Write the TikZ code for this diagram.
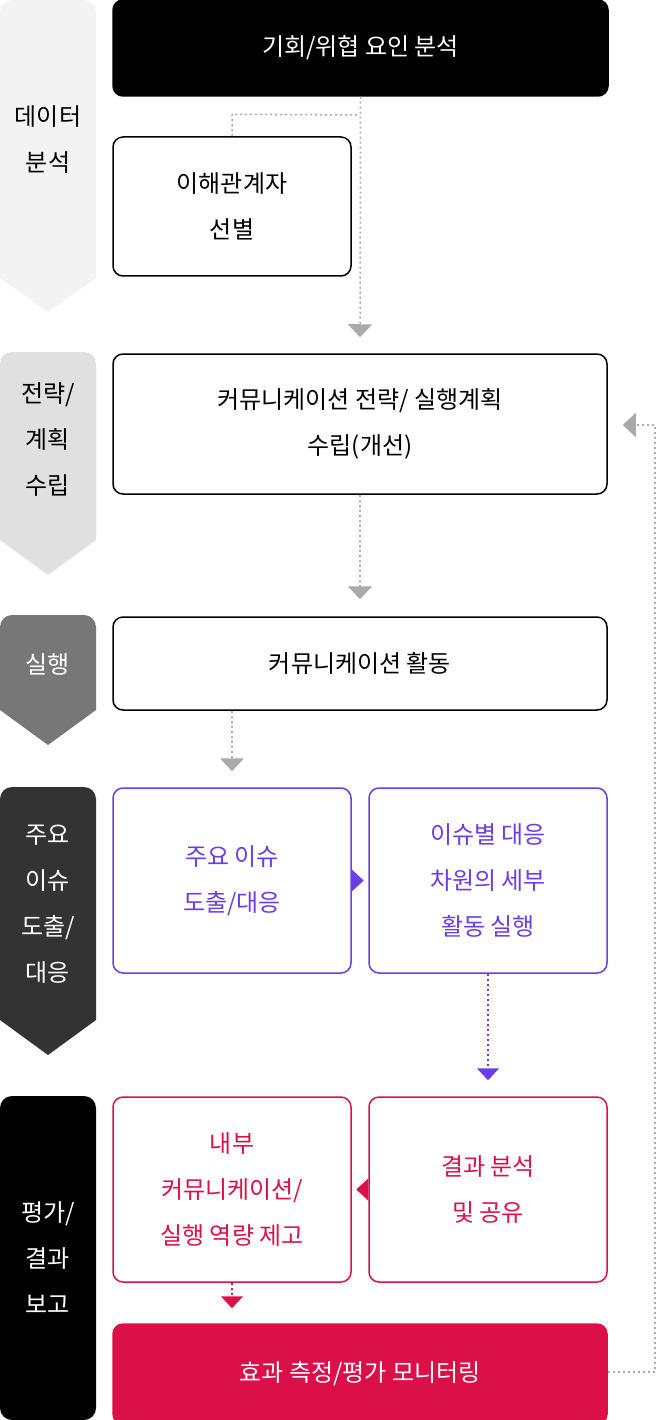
\documentclass[tikz,border=0pt]{standalone}
\usepackage{fontspec}
\setmainfont{Noto Sans CJK KR}
\usetikzlibrary{arrows.meta}
\definecolor{stageA}{HTML}{F3F3F3}
\definecolor{stageB}{HTML}{E0E0E0}
\definecolor{stageC}{HTML}{777777}
\definecolor{stageD}{HTML}{333333}
\definecolor{issuePurple}{HTML}{6A3DE8}
\definecolor{evalRed}{HTML}{DC1048}
\definecolor{linkGray}{HTML}{AAAAAA}

\tikzset{
  stepbox/.style={draw=black, line width=1.5pt, rounded corners=10pt, fill=white,
    align=center, font=\fontsize{24}{46}\selectfont, inner sep=0pt},
  issuebox/.style={stepbox, draw=issuePurple, text=issuePurple},
  evalbox/.style={stepbox, draw=evalRed, text=evalRed},
  stagetext/.style={align=center, font=\fontsize{24}{46}\selectfont},
  flow/.style={line width=1.5pt, dash pattern=on 2pt off 3pt,
    -{Triangle[width=24pt,length=13pt]}},
}

\begin{document}
\begin{tikzpicture}[x=1pt,y=-1pt]
  \useasboundingbox (0,0) rectangle (656,1420);

  % Left stage column
  \fill[stageA] (48,312) -- (0,278) [rounded corners=12pt] -- (0,0) -- (96,0) [sharp corners] -- (96,278) -- cycle;
  \fill[stageB] (48,575) -- (0,540) [rounded corners=12pt] -- (0,352) -- (96,352) [sharp corners] -- (96,540) -- cycle;
  \fill[stageC] (48,745) -- (0,710) [rounded corners=12pt] -- (0,615) -- (96,615) [sharp corners] -- (96,710) -- cycle;
  \fill[stageD] (48,1055) -- (0,1020) [rounded corners=12pt] -- (0,787) -- (96,787) [sharp corners] -- (96,1020) -- cycle;
  \fill[black, rounded corners=12pt] (0,1096) rectangle (96,1420);

  \node[stagetext] (s1) at (48,140) {데이터\\분석};
  \node[stagetext] (s2) at (48,440) {전략/\\계획\\수립};
  \node[stagetext, text=white] (s3) at (48,664) {실행};
  \node[stagetext, text=white] (s4) at (48,904) {주요\\이슈\\도출/\\대응};
  \node[stagetext, text=white] (s5) at (48,1258) {평가/\\결과\\보고};

  % Process boxes
  \node[stepbox, fill=black, text=white, minimum width=495pt, minimum height=96pt] (b1) at (360.5,48) {기회/위협 요인 분석};
  \node[stepbox, minimum width=238pt, minimum height=139pt] (b2) at (232,206.5) {이해관계자\\선별};
  \node[stepbox, minimum width=494pt, minimum height=140pt] (b3) at (360,424) {커뮤니케이션 전략/ 실행계획\\수립(개선)};
  \node[stepbox, minimum width=494pt, minimum height=93pt] (b4) at (360,663.5) {커뮤니케이션 활동};
  \node[issuebox, minimum width=238pt, minimum height=185pt] (b5) at (232,880.5) {주요 이슈\\도출/대응};
  \node[issuebox, minimum width=238pt, minimum height=185pt] (b6) at (488,880.5) {이슈별 대응\\차원의 세부\\활동 실행};
  \node[evalbox, minimum width=238pt, minimum height=185pt] (b7) at (232,1189.5) {내부\\커뮤니케이션/\\실행 역량 제고};
  \node[evalbox, minimum width=238pt, minimum height=185pt] (b8) at (488,1189.5) {결과 분석\\및 공유};
  \node[stepbox, draw=evalRed, fill=evalRed, text=white, minimum width=494pt, minimum height=100pt] (b9) at (360,1374) {효과 측정/평가 모니터링};

  % Connectors
  \coordinate (split) at (360,115);
  \draw[linkGray, line width=1.5pt, dash pattern=on 2pt off 3pt] (b2.north) -- ++(0,-22) -- (split);
  \draw[flow, linkGray, shorten >=16pt] (b1.south) -- (b3.north);
  \draw[flow, linkGray, shorten >=17pt] (b3.south) -- (b4.north);
  \draw[flow, linkGray, shorten >=16pt] (b4.south -| b5.north) -- (b5.north);
  \fill[issuePurple] (b5.east) ++(0,-11) -- ++(12,11) -- ++(-12,11) -- cycle;
  \draw[flow, issuePurple, shorten >=16pt, -{Triangle[width=22pt,length=12pt]}] (b6.south) -- (b8.north);
  \fill[evalRed] (b8.west) ++(0,-11) -- ++(-12,11) -- ++(12,11) -- cycle;
  \draw[flow, evalRed, shorten >=15pt, -{Triangle[width=22pt,length=12pt]}] (b7.south) -- (b7.south |- b9.north);
  \coordinate (loopA) at (655,1372);
  \coordinate (loopB) at (655,425);
  \draw[flow, linkGray, shorten >=15pt] (b9.east |- loopA) -- (loopA) -- (loopB) -- (b3.east |- loopB);
\end{tikzpicture}
\end{document}
